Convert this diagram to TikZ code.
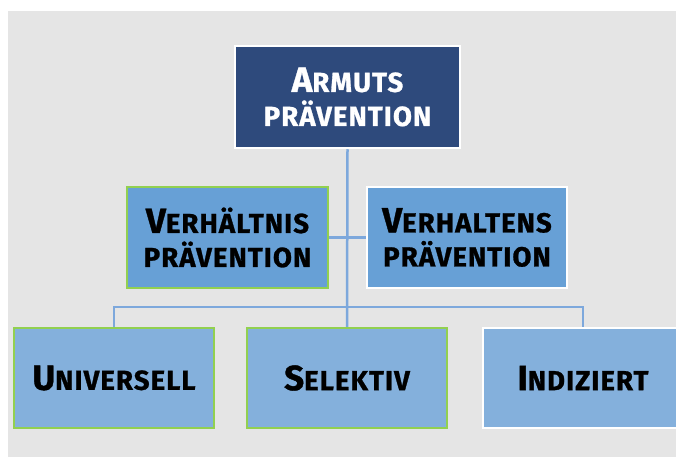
\documentclass[tikz,border=0pt]{standalone}
\usepackage{fontspec}
\setmainfont{Fira Sans}[BoldFeatures={FakeBold=1,LetterSpace=4}]
\usepackage{tikz}

\definecolor{navy}{RGB}{46,74,124}
\definecolor{midblue}{RGB}{103,160,214}
\definecolor{lowblue}{RGB}{132,176,220}
\definecolor{linkblue}{RGB}{125,168,220}
\definecolor{leafgreen}{RGB}{146,208,80}
\definecolor{paper}{RGB}{229,229,229}

\newcommand{\bigini}[1]{{\fontsize{35}{35}\selectfont #1}}

\begin{document}
\begin{tikzpicture}[x=1pt,y=-1pt]
            \tikzset{box/.style={rectangle, line width=2.5pt, minimum width=200pt, minimum height=100pt,
                    inner sep=0pt, align=center, font=\bfseries\fontsize{27.5}{34}\selectfont},
                link/.style={draw=linkblue, line width=2.5pt}}

            \clip (0,0) rectangle (676,457);
            \useasboundingbox (0,0) rectangle (676,457);
            \fill[paper] (8,11) rectangle (676,457);

            \node[box, fill=navy, draw=white, text=white, minimum width=225pt, minimum height=102pt] (armut) at (347.5,97)
                {\bigini{A}RMUTS\\PRÄVENTION};
            \node[box, fill=midblue, draw=leafgreen, minimum width=201pt, minimum height=101pt] (verhaeltnis) at (227.5,237.5)
                {\bigini{V}ERHÄLTNIS\\PRÄVENTION};
            \node[box, fill=midblue, draw=white, minimum height=101pt] (verhaltens) at (467,237.5)
                {\bigini{V}ERHALTENS\\PRÄVENTION};
            \node[box, fill=lowblue, draw=leafgreen] (universell) at (114,378)
                {\bigini{U}NIVERSELL};
            \node[box, fill=lowblue, draw=leafgreen] (selektiv) at (347,378)
                {\bigini{S}ELEKTIV};
            \node[box, fill=lowblue, draw=white] (indiziert) at (583,378)
                {\bigini{I}NDIZIERT};

            \draw[link] (armut.south) -- (selektiv.north);
            \draw[link] (verhaeltnis.east) -- (verhaltens.west);
            \draw[link] (universell.north) -- ++(0,-20) -| (indiziert.north);
\end{tikzpicture}
\end{document}
